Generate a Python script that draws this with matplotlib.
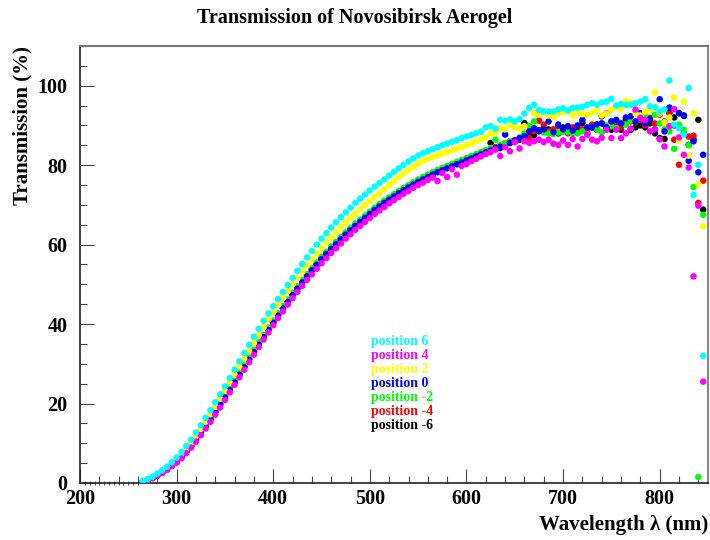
import matplotlib
matplotlib.use("Agg")
import matplotlib.pyplot as plt
from matplotlib.ticker import MultipleLocator

# wavelength grid of the measured points (nm)
wavelength = list(range(265, 850, 5))

# points sitting on zero below the cut-off
zero_wl = [205, 210, 215, 220, 225, 230, 235, 240, 245, 250, 255, 260]
zero_val = [0.0] * len(zero_wl)

pos_6 = [
    0.5, 1.0, 1.6, 2.4, 3.2, 4.1, 5.2, 6.4, 7.8, 9.3,
    10.9, 12.7, 14.5, 16.4, 18.3, 20.3, 22.3, 24.3, 26.4, 28.5,
    30.6, 32.7, 34.8, 36.8, 38.8, 40.8, 42.7, 44.5, 46.3, 48.1,
    49.8, 51.6, 53.4, 55.1, 56.8, 58.4, 60.0, 61.5, 62.9, 64.3,
    65.6, 66.9, 68.1, 69.3, 70.5, 71.6, 72.6, 73.6, 74.6, 75.5,
    76.4, 77.4, 78.3, 79.2, 80.1, 80.9, 81.7, 82.4, 83.0, 83.5,
    84.0, 84.5, 85.0, 85.4, 85.9, 86.3, 86.8, 87.2, 87.6, 88.0,
    88.4, 89.5, 89.8, 89.2, 91.4, 91.2, 91.5, 91.0, 91.6, 93.0,
    94.4, 95.2, 93.9, 93.5, 93.5, 93.5, 94.0, 94.3, 93.8, 94.4,
    94.5, 94.7, 95.2, 95.6, 95.2, 95.8, 96.0, 96.7, 95.0, 95.4,
    95.2, 95.2, 95.6, 96.0, 96.6, 94.8, 94.6, 93.5, 94.0, 101.3,
    90.2, 89.3, 87.7, 99.4, 72.5, 80.1, 32.0,
]

pos_4 = [
    0.3, 0.7, 1.2, 1.8, 2.5, 3.3, 4.2, 5.1, 6.2, 7.5,
    8.9, 10.4, 12.0, 13.7, 15.4, 17.2, 19.0, 20.9, 22.8, 24.7,
    26.6, 28.5, 30.4, 32.3, 34.2, 36.1, 37.9, 39.7, 41.5, 43.2,
    44.9, 46.5, 48.1, 49.6, 51.1, 52.5, 53.9, 55.3, 56.6, 57.9,
    59.1, 60.3, 61.5, 62.6, 63.7, 64.7, 65.7, 66.7, 67.7, 68.6,
    69.5, 70.4, 71.2, 72.0, 72.8, 73.5, 74.3, 75.0, 75.6, 76.3,
    76.9, 76.0, 78.0, 77.0, 79.0, 77.6, 79.8, 80.3, 81.0, 81.6,
    82.2, 82.8, 83.3, 83.9, 82.3, 84.5, 83.5, 85.8, 84.2, 86.0,
    85.6, 86.0, 86.4, 85.8, 86.4, 85.4, 85.1, 86.2, 85.1, 86.6,
    84.7, 86.6, 87.7, 86.4, 86.0, 86.9, 88.9, 86.8, 88.9, 86.8,
    88.0, 89.2, 94.0, 91.9, 91.4, 88.5, 89.0, 86.5, 84.7, 89.8,
    94.1, 87.0, 82.6, 79.4, 52.0, 69.8, 25.5,
]

pos_2 = [
    0.4, 0.9, 1.4, 2.1, 2.9, 3.8, 4.8, 5.9, 7.2, 8.6,
    10.1, 11.8, 13.6, 15.4, 17.3, 19.2, 21.2, 23.2, 25.2, 27.2,
    29.2, 31.2, 33.2, 35.2, 37.2, 39.2, 41.1, 43.0, 44.8, 46.6,
    48.3, 50.0, 51.6, 53.2, 54.8, 56.3, 57.8, 59.2, 60.6, 61.9,
    63.2, 64.4, 65.6, 66.8, 67.9, 69.0, 70.0, 71.0, 72.0, 72.9,
    74.0, 75.0, 76.0, 77.0, 77.9, 78.8, 79.6, 80.4, 81.1, 81.6,
    82.0, 82.5, 82.9, 83.3, 83.8, 84.2, 84.6, 85.0, 85.5, 85.9,
    86.5, 87.0, 88.0, 88.3, 89.3, 89.0, 90.2, 89.5, 89.3, 89.8,
    94.4, 93.1, 92.7, 93.5, 92.5, 92.0, 93.0, 93.5, 93.5, 92.5,
    93.4, 92.8, 92.7, 93.2, 93.8, 92.5, 93.0, 94.0, 94.5, 94.2,
    96.2, 95.8, 93.0, 92.5, 93.5, 94.0, 98.3, 93.0, 90.8, 92.0,
    97.0, 86.2, 96.0, 82.4, 93.1, 75.2, 64.6,
]

pos_0 = [
    0.3, 0.8, 1.3, 1.9, 2.6, 3.4, 4.4, 5.4, 6.6, 7.9,
    9.3, 10.9, 12.5, 14.2, 16.0, 17.8, 19.7, 21.5, 23.4, 25.3,
    27.2, 29.1, 31.0, 32.9, 34.8, 36.7, 38.5, 40.3, 42.1, 43.9,
    45.6, 47.3, 48.9, 50.5, 52.0, 53.5, 54.9, 56.3, 57.6, 58.9,
    60.1, 61.3, 62.5, 63.6, 64.7, 65.7, 66.7, 67.7, 68.7, 69.6,
    70.5, 71.3, 72.1, 72.9, 73.7, 74.4, 75.1, 75.8, 76.4, 77.0,
    77.6, 78.2, 78.7, 79.2, 79.7, 80.2, 80.7, 81.2, 81.7, 82.2,
    82.7, 83.2, 83.7, 84.2, 84.6, 87.7, 85.6, 86.2, 86.8, 87.3,
    88.5, 89.3, 88.5, 89.0, 91.0, 88.3, 90.2, 89.0, 89.8, 88.7,
    90.0, 91.4, 89.5, 89.5, 90.3, 90.5, 89.5, 91.0, 91.4, 90.5,
    92.0, 92.3, 91.0, 93.1, 90.5, 91.5, 89.0, 96.6, 88.5, 94.5,
    90.0, 93.1, 92.4, 81.1, 86.0, 78.2, 82.6,
]

pos_m2 = [
    0.3, 0.8, 1.3, 1.9, 2.7, 3.5, 4.5, 5.6, 6.8, 8.1,
    9.6, 11.2, 12.9, 14.6, 16.4, 18.2, 20.1, 22.0, 23.9, 25.8,
    27.7, 29.6, 31.6, 33.5, 35.4, 37.3, 39.1, 40.9, 42.7, 44.5,
    46.2, 47.9, 49.5, 51.1, 52.6, 54.1, 55.5, 56.9, 58.2, 59.5,
    60.7, 61.9, 63.1, 64.2, 65.3, 66.3, 67.3, 68.3, 69.3, 70.2,
    71.1, 71.9, 72.7, 73.5, 74.3, 75.0, 75.7, 76.4, 77.0, 77.6,
    78.2, 78.8, 79.3, 79.8, 80.3, 80.8, 81.3, 81.8, 82.3, 82.8,
    83.3, 83.8, 84.3, 86.4, 85.0, 85.5, 86.0, 86.2, 87.0, 88.0,
    89.8, 91.0, 88.6, 88.2, 88.0, 87.8, 88.2, 88.5, 88.3, 88.0,
    88.0, 88.5, 87.7, 89.5, 89.0, 88.2, 90.0, 89.8, 89.3, 90.6,
    90.2, 91.2, 93.5, 92.0, 92.7, 94.0, 92.7, 90.5, 89.0, 88.5,
    84.1, 90.2, 88.9, 85.0, 74.5, 1.5, 67.5,
]

pos_m4 = [
    0.3, 0.8, 1.3, 1.9, 2.6, 3.5, 4.4, 5.5, 6.7, 8.0,
    9.4, 11.0, 12.7, 14.4, 16.2, 18.0, 19.9, 21.8, 23.7, 25.6,
    27.5, 29.4, 31.3, 33.2, 35.1, 37.0, 38.8, 40.6, 42.4, 44.2,
    45.9, 47.6, 49.2, 50.8, 52.3, 53.8, 55.2, 56.6, 57.9, 59.2,
    60.4, 61.6, 62.8, 63.9, 65.0, 66.0, 67.0, 68.0, 69.0, 69.9,
    70.8, 71.6, 72.4, 73.2, 74.0, 74.7, 75.4, 76.1, 76.7, 77.3,
    77.9, 78.5, 79.0, 79.5, 80.0, 80.5, 81.0, 81.5, 82.0, 82.5,
    83.0, 83.5, 84.0, 84.5, 85.0, 85.5, 86.0, 86.3, 86.6, 87.0,
    86.8, 88.5, 91.2, 90.2, 88.5, 89.0, 89.8, 88.5, 88.0, 89.5,
    88.2, 89.0, 88.7, 90.2, 89.0, 90.5, 93.1, 91.0, 90.0, 89.5,
    90.5, 91.0, 90.8, 91.5, 90.0, 91.9, 90.5, 92.7, 91.0, 93.0,
    86.4, 80.1, 88.0, 87.2, 87.4, 70.5, 76.1,
]

pos_m6 = [
    0.3, 0.8, 1.3, 1.9, 2.6, 3.4, 4.4, 5.5, 6.7, 8.0,
    9.4, 11.0, 12.6, 14.3, 16.1, 17.9, 19.8, 21.7, 23.6, 25.5,
    27.4, 29.3, 31.2, 33.1, 35.0, 36.9, 38.7, 40.5, 42.3, 44.1,
    45.8, 47.5, 49.1, 50.7, 52.2, 53.7, 55.1, 56.5, 57.8, 59.1,
    60.3, 61.5, 62.7, 63.8, 64.9, 65.9, 66.9, 67.9, 68.9, 69.8,
    70.7, 71.5, 72.3, 73.1, 73.9, 74.6, 75.3, 76.0, 76.6, 77.2,
    77.8, 78.4, 78.9, 79.4, 79.9, 80.4, 80.9, 81.4, 81.9, 82.4,
    82.9, 83.4, 85.6, 84.5, 84.3, 85.2, 85.6, 86.0, 86.4, 90.6,
    88.0, 87.5, 88.8, 89.2, 89.0, 88.5, 88.0, 89.5, 89.0, 88.2,
    89.0, 90.6, 88.0, 89.5, 89.0, 92.3, 89.5, 88.9, 89.8, 88.9,
    91.4, 88.9, 89.5, 90.0, 89.5, 90.5, 88.0, 86.8, 86.6, 93.3,
    92.0, 93.1, 92.5, 85.1, 86.5, 91.4, 68.8,
]

# drawn bottom to top, legend listed top to bottom in reverse
series = [
    ("position -6", pos_m6, "#000000"),
    ("position -4", pos_m4, "#ff0000"),
    ("position -2", pos_m2, "#00ff00"),
    ("position 0", pos_0, "#0000ff"),
    ("position 2", pos_2, "#ffff00"),
    ("position 4", pos_4, "#ff00ff"),
    ("position 6", pos_6, "#00ffff"),
]

FONT = "Liberation Serif"


def main():
    fig = plt.figure(figsize=(7.1, 5.4), dpi=100)
    ax = fig.add_axes([0.1127, 0.1056, 0.8845, 0.8093])

    ax.scatter(zero_wl, zero_val, marker="|", s=8, color="#333333",
               linewidths=0.6, clip_on=False, zorder=1)
    for i, (name, vals, col) in enumerate(series):
        ax.scatter(wavelength, vals, s=22, color=col, edgecolors="none",
                   zorder=2 + i, clip_on=True)

    ax.set_xlim(200, 850)
    ax.set_ylim(0, 110)
    ax.xaxis.set_major_locator(MultipleLocator(100))
    ax.xaxis.set_minor_locator(MultipleLocator(20))
    ax.yaxis.set_major_locator(MultipleLocator(20))
    ax.yaxis.set_minor_locator(MultipleLocator(5))

    ax.tick_params(which="both", direction="in", top=False, right=False,
                   color="#444444", width=0.8)
    ax.tick_params(which="major", length=10)
    ax.tick_params(which="minor", length=5)
    ax.tick_params(axis="y", which="major", pad=9)
    ax.tick_params(axis="x", which="major", pad=4)
    for lab in ax.get_xticklabels() + ax.get_yticklabels():
        lab.set_fontfamily(FONT)
        lab.set_fontweight("bold")
        lab.set_fontsize(14.5)

    ax.spines["left"].set_color("#222222")
    ax.spines["bottom"].set_color("#222222")
    ax.spines["left"].set_linewidth(1.2)
    ax.spines["bottom"].set_linewidth(1.2)
    ax.spines["top"].set_color("#777777")
    ax.spines["right"].set_color("#888888")
    ax.spines["top"].set_linewidth(1.5)
    ax.spines["right"].set_linewidth(1.5)

    fig.text(0.5, 0.967, "Transmission of Novosibirsk Aerogel", ha="center",
             va="center", fontfamily=FONT, fontweight="bold", fontsize=14.5)
    fig.text(0.031, 0.915, "Transmission (%)", rotation=90, ha="center",
             va="top", fontfamily=FONT, fontweight="bold", fontsize=15)
    fig.text(0.997, 0.028, "Wavelength \u03bb (nm)", ha="right", va="center",
             fontfamily=FONT, fontweight="bold", fontsize=15)

    # legend as coloured text lines
    y0 = 1 - 341 / 540
    for k, (name, vals, col) in enumerate(reversed(series)):
        fig.text(371 / 710, y0 - k * 14 / 540, name, color=col, ha="left",
                 va="center", fontfamily=FONT, fontweight="bold", fontsize=10)

    fig.savefig("out.png", dpi=100)


if __name__ == "__main__":
    main()
